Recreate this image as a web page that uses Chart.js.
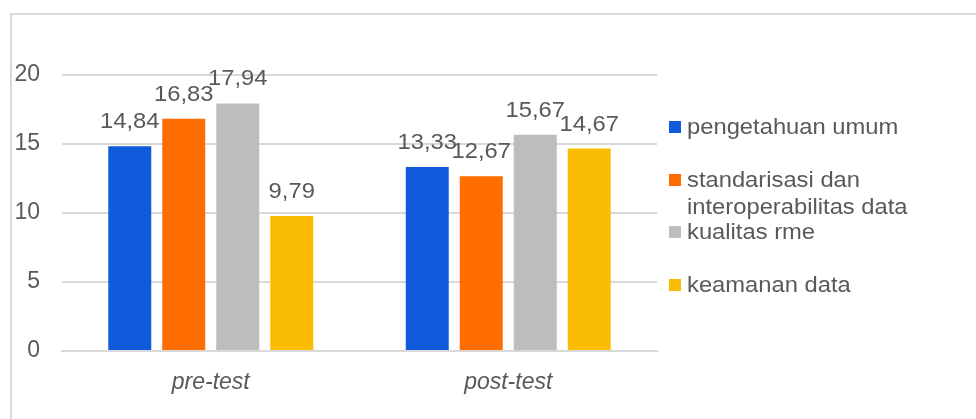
<!DOCTYPE html>
<html>
<head>
<meta charset="utf-8">
<script src="https://cdn.jsdelivr.net/npm/chart.js@4.4.0/dist/chart.umd.min.js"></script>
<style>
  html, body { margin: 0; padding: 0; background: #fff; overflow: hidden; }
  #wrap { position: relative; width: 976px; height: 419px; }
  #frame { position: absolute; left: 10px; top: 13px; width: 1200px; height: 600px;
           border-top: 2px solid #d9d9d9; border-left: 2px solid #d9d9d9; }
  canvas { position: absolute; left: 0; top: 0; }
  .leg { position: absolute; left: 669px; font: 22px "Liberation Sans", Arial, sans-serif;
         color: #595959; line-height: 27px; white-space: nowrap; }
  .leg i { position: absolute; left: 0; width: 12px; height: 12px; }
  .leg span { position: absolute; left: 18px; top: 0; transform: scaleX(1.08); transform-origin: left top; }
</style>
</head>
<body>
<div id="wrap">
  <div id="frame"></div>
  <canvas id="chart" width="976" height="419"></canvas>
  <div id="legend"></div>
</div>
<script>
const categories = ['pre-test', 'post-test'];
const seriesNames = ['pengetahuan umum', 'standarisasi dan\ninteroperabilitas data', 'kualitas rme', 'keamanan data'];
const pengetahuan = [14.84, 13.33];
const standarisasi = [16.83, 12.67];
const kualitas = [17.94, 15.67];
const keamanan = [9.79, 14.67];
const yTicks = [0, 5, 10, 15, 20];
const colors = ['#0F5BDC', '#FF6D00', '#BDBDBD', '#FBBC04'];

const values = [pengetahuan, standarisasi, kualitas, keamanan];
const textColor = '#595959';
const font = '"Liberation Sans", Arial, sans-serif';

// value labels above bars, slightly widened like the original
const valueLabels = {
    id: 'valueLabels',
    afterDatasetsDraw(chart) {
        const ctx = chart.ctx;
        ctx.save();
        ctx.font = '22px ' + font;
        ctx.fillStyle = textColor;
        ctx.textAlign = 'center';
        ctx.textBaseline = 'alphabetic';
        chart.data.datasets.forEach((ds, i) => {
            chart.getDatasetMeta(i).data.forEach((bar, j) => {
                const txt = ds.data[j].toFixed(2).replace('.', ',');
                ctx.save();
                ctx.translate(bar.x, bar.y - 18);
                ctx.scale(1.08, 1);
                ctx.fillText(txt, 0, 0);
                ctx.restore();
            });
        });
        ctx.restore();
    }
};

const ctx = document.getElementById('chart').getContext('2d');
const chart = new Chart(ctx, {
    type: 'bar',
    data: {
        labels: categories,
        datasets: seriesNames.map((name, i) => ({
            label: name,
            data: values[i],
            backgroundColor: colors[i],
            categoryPercentage: 0.726,
            barPercentage: 0.796,
        }))
    },
    options: {
        responsive: false,
        animation: false,
        layout: { padding: { top: 75, right: 319, bottom: 0, left: 0 } },
        plugins: { legend: { display: false }, tooltip: { enabled: false } },
        scales: {
            x: {
                grid: { display: false, drawTicks: false },
                border: { color: '#d9d9d9', width: 2 },
                ticks: { color: textColor, padding: 18, font: { family: font, size: 23, style: 'italic' } },
                afterFit(scale) { scale.height = 68; }
            },
            y: {
                min: 0,
                max: 20,
                afterBuildTicks(scale) { scale.ticks = yTicks.map(v => ({ value: v })); },
                grid: { color: '#d9d9d9', lineWidth: 2, drawTicks: false },
                border: { display: false },
                ticks: { color: textColor, padding: 22, font: { family: font, size: 23 } },
                afterFit(scale) { scale.width = 62; }
            }
        }
    },
    plugins: [valueLabels]
});

// legend on the right, one item per series
const legendTops = [113, 166, 218, 271];
const legend = document.getElementById('legend');
seriesNames.forEach((name, i) => {
    const d = document.createElement('div');
    d.className = 'leg';
    d.style.top = legendTops[i] + 'px';
    d.innerHTML = '<i style="background:' + colors[i] + ';top:8px"></i><span>' + name.replace('\n', '<br>') + '</span>';
    legend.appendChild(d);
});
</script>
</body>
</html>
